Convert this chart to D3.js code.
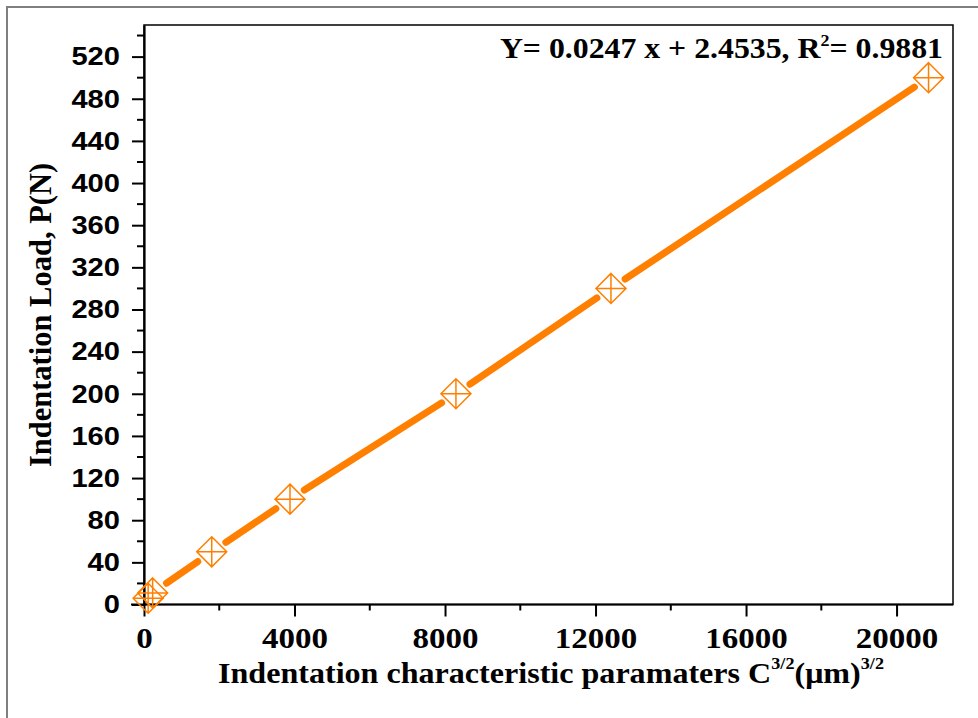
<!DOCTYPE html>
<html>
<head>
<meta charset="utf-8">
<script src="https://cdn.jsdelivr.net/npm/d3@7"></script>
<style>
  body { margin: 0; background: #fff; }
  svg { display: block; }
</style>
</head>
<body>
<div class="chart-area"></div>
<script>
// data
let loadX = [110, 230, 1800, 3880, 8290, 12410, 20850];   // C^3/2 (um)^3/2
let loadY = [6, 11, 50, 100, 200, 300, 500];              // P (N)
let xTicks = [0, 4000, 8000, 12000, 16000, 20000];
let yTicks = [0, 40, 80, 120, 160, 200, 240, 280, 320, 360, 400, 440, 480, 520];

let width = 978, height = 718;
let margin = {top: 25, right: 25, bottom: 113.5, left: 144};
let orange = "#ff7f00";
let serif = "'Liberation Serif', 'Times New Roman', serif";

let svg = d3.select("div.chart-area").append("svg")
  .attr("width", width)
  .attr("height", height);

// grey outer frame (only top/left visible)
svg.append("rect")
  .attr("x", 7).attr("y", 7)
  .attr("width", width).attr("height", height)
  .attr("fill", "none")
  .attr("stroke", "#7f7f7f")
  .attr("stroke-width", 2);

let x = d3.scaleLinear().domain([0, 21500]).range([margin.left, width - margin.right]);
let y = d3.scaleLinear().domain([0, 550]).range([height - margin.bottom, margin.top]);

// plot box
svg.append("rect")
  .attr("x", x(0)).attr("y", y(550))
  .attr("width", x(21500) - x(0)).attr("height", y(0) - y(550))
  .attr("fill", "none")
  .attr("stroke", "#000")
  .attr("stroke-width", 1.5);

// minor ticks
let xMinor = d3.range(2000, 21500, 4000);
let yMinor = d3.range(20, 550, 40);

// the picture is a bit wider than tall, so text is stretched sideways
let xStretch = 1.1, yStretch = 1.12;

let xAxis = svg.append("g")
  .attr("transform", "translate(0," + y(0) + ")")
  .call(d3.axisBottom(x).tickValues(xTicks).tickSize(12).tickPadding(10).tickSizeOuter(0).tickFormat(d3.format("d")));
xAxis.select(".domain").attr("stroke-width", 2.2).attr("d", "M" + (x(0) - 13) + ",0H" + x(21500));
xAxis.selectAll(".tick line").attr("stroke-width", 2);
xAxis.selectAll(".tick text")
  .attr("font-family", serif)
  .attr("font-weight", "bold")
  .attr("font-size", 30)
  .attr("fill", "#000")
  .attr("transform", "scale(" + xStretch + ",1)");
svg.append("g")
  .attr("transform", "translate(0," + y(0) + ")")
  .selectAll("line").data(xMinor).enter().append("line")
  .attr("x1", d => x(d)).attr("x2", d => x(d))
  .attr("y1", 0).attr("y2", 6)
  .attr("stroke", "#000").attr("stroke-width", 2);

let yAxis = svg.append("g")
  .attr("transform", "translate(" + x(0) + ",0)")
  .call(d3.axisLeft(y).tickValues(yTicks).tickSize(12).tickPadding(12).tickSizeOuter(0));
yAxis.select(".domain").attr("stroke-width", 2.2);
yAxis.selectAll(".tick line").attr("stroke-width", 2);
yAxis.selectAll(".tick text")
  .attr("font-family", "'Liberation Sans', Arial, sans-serif")
  .attr("font-weight", "bold")
  .attr("font-size", 26)
  .attr("fill", "#000")
  .attr("x", -24 / yStretch)
  .attr("transform", "scale(" + yStretch + ",1)");
svg.append("g")
  .attr("transform", "translate(" + x(0) + ",0)")
  .selectAll("line").data(yMinor).enter().append("line")
  .attr("x1", -7).attr("x2", 0)
  .attr("y1", d => y(d)).attr("y2", d => y(d))
  .attr("stroke", "#000").attr("stroke-width", 2);

// connecting line with gaps round the symbols
let pts = loadX.map((d, i) => [x(d), y(loadY[i])]);
let gap = 17;
let segs = [];
for (let i = 1; i < pts.length; i++) {
  let a = pts[i - 1], b = pts[i];
  let dx = b[0] - a[0], dy = b[1] - a[1];
  let len = Math.sqrt(dx * dx + dy * dy);
  if (len < 2 * gap + 4) continue;
  let ux = dx / len, uy = dy / len;
  segs.push([[a[0] + ux * gap, a[1] + uy * gap], [b[0] - ux * gap, b[1] - uy * gap]]);
}
svg.append("g").selectAll("path").data(segs).enter().append("path")
  .attr("d", d => d3.line()(d))
  .attr("stroke", orange)
  .attr("stroke-width", 7)
  .attr("stroke-linecap", "round")
  .attr("fill", "none");

// symbols: diamond with a cross
let r = 15;
let node = svg.append("g").selectAll("g")
  .data(loadX.map((d, i) => ({x: d, y: loadY[i]})))
  .enter().append("g")
  .attr("transform", d => "translate(" + x(d.x) + "," + y(d.y) + ")");
node.append("path")
  .attr("d", "M0," + (-r) + "L" + r + ",0L0," + r + "L" + (-r) + ",0Z" +
             "M" + (-r) + ",0H" + r + "M0," + (-r) + "V" + r)
  .attr("fill", "none")
  .attr("stroke", orange)
  .attr("stroke-width", 1.5);

// fit equation
let eq = svg.append("text")
  .attr("transform", "translate(943,58) scale(1.06,1)")
  .attr("text-anchor", "end")
  .attr("font-family", serif)
  .attr("font-weight", "bold")
  .attr("font-size", 30)
  .attr("fill", "#000");
eq.append("tspan").text("Y= 0.0247 x + 2.4535, R");
eq.append("tspan").attr("font-size", 17).attr("dy", -12).text("2");
eq.append("tspan").attr("dy", 12).text("= 0.9881");

// axis titles
let xt = svg.append("text")
  .attr("transform", "translate(218,683) scale(1.07,1)")
  .attr("font-family", serif)
  .attr("font-weight", "bold")
  .attr("font-size", 30)
  .attr("fill", "#000");
xt.append("tspan").text("Indentation characteristic paramaters C");
xt.append("tspan").attr("font-size", 17).attr("dy", -14).text("3/2");
xt.append("tspan").attr("dy", 14).text("(\u03bcm)");
xt.append("tspan").attr("font-size", 17).attr("dy", -14).text("3/2");

svg.append("text")
  .attr("transform", "translate(51,315) rotate(-90)")
  .attr("text-anchor", "middle")
  .attr("font-family", serif)
  .attr("font-weight", "bold")
  .attr("font-size", 30.5)
  .attr("fill", "#000")
  .text("Indentation Load, P(N)");
</script>
</body>
</html>
